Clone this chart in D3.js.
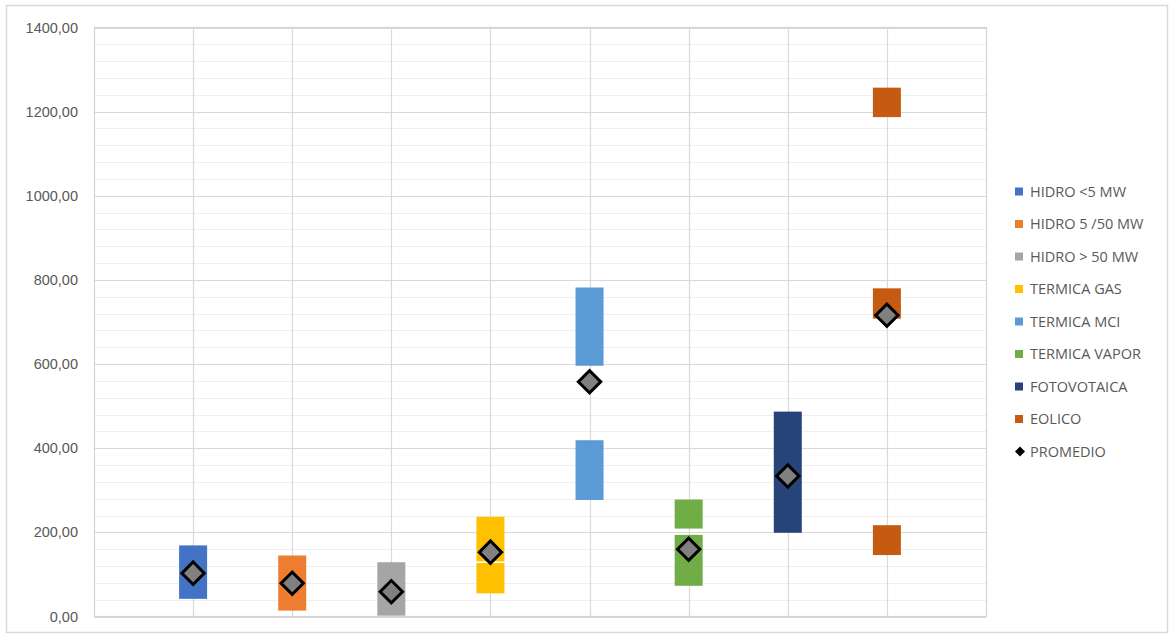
<!DOCTYPE html>
<html>
<head>
<meta charset="utf-8">
<script src="https://cdn.jsdelivr.net/npm/d3@7"></script>
<style>
  html, body { margin: 0; padding: 0; background: #fff; }
  svg { display: block; font-family: "Open Sans", "Liberation Sans", sans-serif; }
</style>
</head>
<body>
<svg id="chart" width="1171" height="637"></svg>
<script>
// Technology categories (one column each)
const categories = ["HIDRO <5 MW", "HIDRO 5 /50 MW", "HIDRO > 50 MW", "TERMICA GAS",
                    "TERMICA MCI", "TERMICA VAPOR", "FOTOVOTAICA", "EOLICO"];
const colors = ["#4472C4", "#ED7D31", "#A5A5A5", "#FFC000",
                "#5B9BD5", "#70AD47", "#264478", "#C55A11"];
// Floating ranges per category: lower and upper bound of each block
const rangeLow  = [[42], [14], [2], [55, 131], [277, 596], [73, 209], [199], [146, 708, 1187]];
const rangeHigh = [[169], [145], [129], [127, 237], [419, 782], [194, 278], [487], [217, 780, 1257]];
// Average value per category
const promedio = [103, 79, 59, 153, 558, 160, 334, 716];
// Value axis ticks
const yTicks = [0, 200, 400, 600, 800, 1000, 1200, 1400];
const yMinorTicks = d3.range(0, 1401, 40);

const svg = d3.select("#chart");
const plot = { left: 94, right: 986, top: 27.5, bottom: 616.5 };

// Outer chart frame
svg.append("rect")
  .attr("x", 6.5).attr("y", 5.5).attr("width", 1161).attr("height", 627)
  .attr("fill", "#fff").attr("stroke", "#d9d9d9").attr("stroke-width", 1.5);

const x = d3.scaleLinear().domain([0, categories.length + 1]).range([plot.left, plot.right]);
const y = d3.scaleLinear().domain([0, 1400]).range([plot.bottom, plot.top]);

// Minor horizontal gridlines
svg.append("g").selectAll("line").data(yMinorTicks.filter(v => v % 200 !== 0)).join("line")
  .attr("x1", plot.left).attr("x2", plot.right)
  .attr("y1", d => Math.round(y(d)) + 0.5).attr("y2", d => Math.round(y(d)) + 0.5)
  .attr("stroke", "#efefef").attr("stroke-width", 1);

// Major horizontal gridlines
svg.append("g").selectAll("line").data(yTicks).join("line")
  .attr("x1", plot.left).attr("x2", plot.right)
  .attr("y1", d => Math.round(y(d)) + 0.5).attr("y2", d => Math.round(y(d)) + 0.5)
  .attr("stroke", "#d9d9d9").attr("stroke-width", 1.2);

// Vertical gridlines at each category
svg.append("g").selectAll("line").data(categories).join("line")
  .attr("x1", (d, i) => Math.round(x(i + 1)) + 0.5).attr("x2", (d, i) => Math.round(x(i + 1)) + 0.5)
  .attr("y1", plot.top).attr("y2", plot.bottom)
  .attr("stroke", "#d9d9d9").attr("stroke-width", 1.2);

// Plot area border
svg.append("rect")
  .attr("x", plot.left + 0.5).attr("y", plot.top)
  .attr("width", plot.right - plot.left).attr("height", plot.bottom - plot.top)
  .attr("fill", "none").attr("stroke", "#d4d4d4").attr("stroke-width", 1.2);

// Value axis labels
const yAxis = d3.axisLeft(y).tickValues(yTicks)
  .tickFormat(d => d3.format(".2f")(d).replace(".", ","))
  .tickSize(0).tickPadding(0);
const gy = svg.append("g").attr("transform", `translate(${plot.left - 16},0)`).call(yAxis);
gy.select(".domain").remove();
gy.selectAll("text").attr("fill", "#595959").attr("font-size", 14.5).attr("dy", "0.32em");

// Floating range blocks
const barW = 28;
const blocks = [];
categories.forEach((c, i) => {
  rangeLow[i].forEach((lo, k) => blocks.push({ i, lo, hi: rangeHigh[i][k] }));
});
svg.append("g").selectAll("rect").data(blocks).join("rect")
  .attr("x", d => x(d.i + 1) - barW / 2)
  .attr("y", d => y(d.hi))
  .attr("width", barW)
  .attr("height", d => y(d.lo) - y(d.hi))
  .attr("fill", d => colors[d.i]);

// Average markers
const diamond = d3.symbol().type(d3.symbolSquare).size(250);
svg.append("g").selectAll("path").data(promedio).join("path")
  .attr("d", diamond)
  .attr("transform", (d, i) => `translate(${x(i + 1)},${y(d)}) rotate(45)`)
  .attr("fill", "#808080").attr("stroke", "#000").attr("stroke-width", 3)
  .attr("stroke-linejoin", "miter");

// Legend
const legend = svg.append("g").attr("transform", "translate(1015,0)");
const legendY0 = 191.5, legendStep = 32.5;
categories.forEach((c, i) => {
  const g = legend.append("g").attr("transform", `translate(0,${legendY0 + i * legendStep})`);
  g.append("rect").attr("x", 0).attr("y", -4).attr("width", 8).attr("height", 8).attr("fill", colors[i]);
  g.append("text").attr("x", 15).attr("dy", "0.35em").attr("font-size", 14.5)
    .attr("fill", "#595959").text(c);
});
const gp = legend.append("g").attr("transform", `translate(0,${legendY0 + categories.length * legendStep})`);
gp.append("path").attr("d", d3.symbol().type(d3.symbolSquare).size(50))
  .attr("transform", "translate(5,0) rotate(45)").attr("fill", "#000");
gp.append("text").attr("x", 15).attr("dy", "0.35em").attr("font-size", 14.5)
  .attr("fill", "#595959").text("PROMEDIO");
</script>
</body>
</html>
